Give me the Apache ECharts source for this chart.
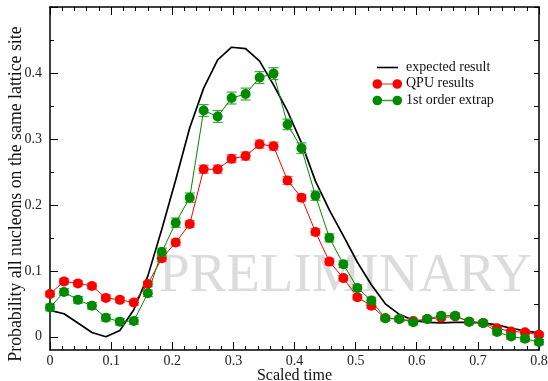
<!DOCTYPE html>
<html><head><meta charset="utf-8">
<script src="https://cdn.jsdelivr.net/npm/echarts@6/dist/echarts.min.js"></script>
<style>html,body{margin:0;padding:0;background:#fff}#c{width:548px;height:381px}</style>
</head><body><div id="c"></div>
<script>
// Scaled time grid
const times = [0, 0.0229, 0.0457, 0.0686, 0.0914, 0.1143, 0.1371, 0.16, 0.1829, 0.2057, 0.2286, 0.2514,
  0.2743, 0.2971, 0.32, 0.3429, 0.3657, 0.3886, 0.4114, 0.4343, 0.4571, 0.48, 0.5029, 0.5257,
  0.5486, 0.5714, 0.5943, 0.6171, 0.64, 0.6629, 0.6857, 0.7086, 0.7314, 0.7543, 0.7771, 0.8];
// expected result (black curve)
const expected = [0.040, 0.035, 0.021, 0.0066, 0.000, 0.0096, 0.041, 0.092, 0.163, 0.238, 0.317, 0.377,
  0.420, 0.439, 0.437, 0.418, 0.382, 0.342, 0.294, 0.236, 0.192, 0.153, 0.113, 0.079,
  0.050, 0.034, 0.025, 0.022, 0.021, 0.022, 0.022, 0.021, 0.018, 0.013, 0.009, 0.006];
// QPU results
const qpu = [0.065, 0.084, 0.081, 0.077, 0.059, 0.056, 0.052, 0.080, 0.119, 0.143, 0.171, 0.254,
  0.254, 0.270, 0.274, 0.292, 0.289, 0.237, 0.211, 0.159, 0.114, 0.089, 0.060, 0.047,
  0.028, 0.027, 0.024, 0.027, 0.029, 0.031, 0.023, 0.021, 0.013, 0.008, 0.007, 0.003];
const qpuErr = [0.004, 0.004, 0.004, 0.004, 0.004, 0.004, 0.004, 0.004, 0.005, 0.005, 0.005, 0.006,
  0.006, 0.006, 0.006, 0.006, 0.006, 0.006, 0.005, 0.005, 0.005, 0.004, 0.004, 0.004,
  0.003, 0.003, 0.003, 0.003, 0.003, 0.003, 0.003, 0.003, 0.003, 0.003, 0.003, 0.003];
// 1st order extrapolation
const extrap = [0.0445, 0.068, 0.056, 0.047, 0.029, 0.023, 0.024, 0.066, 0.1285, 0.173, 0.211, 0.343,
  0.334, 0.362, 0.368, 0.393, 0.399, 0.322, 0.286, 0.214, 0.150, 0.110, 0.074, 0.055,
  0.028, 0.027, 0.022, 0.027, 0.032, 0.032, 0.023, 0.021, 0.0072, 0.0005, -0.003, -0.008];
const extrapErr = [0.005, 0.005, 0.005, 0.005, 0.005, 0.005, 0.005, 0.005, 0.006, 0.007, 0.007, 0.009,
  0.009, 0.009, 0.009, 0.009, 0.009, 0.008, 0.008, 0.007, 0.006, 0.005, 0.005, 0.005,
  0.004, 0.004, 0.004, 0.004, 0.004, 0.004, 0.004, 0.004, 0.004, 0.004, 0.004, 0.004];
const xTickLabels = ['0', '0.1', '0.2', '0.3', '0.4', '0.5', '0.6', '0.7', '0.8'];
const yTickLabels = ['0', '0.1', '0.2', '0.3', '0.4', ''];
const legendNames = ['expected result', 'QPU results', '1st order extrap'];
const xName = 'Scaled time';
const yName = 'Probability all nucleons on the same lattice site';

const FONT = 'Liberation Serif';
const chart = echarts.init(document.getElementById('c'), null, {renderer: 'canvas'});

function errItem(color) {
  return function (params, api) {
    const x = api.value(0), y = api.value(1), e = api.value(2);
    const p = api.coord([x, y + e]);
    const q = api.coord([x, y - e]);
    const w = 5;
    const st = {stroke: color, lineWidth: 1.2};
    return {type: 'group', children: [
      {type: 'line', shape: {x1: p[0], y1: p[1], x2: q[0], y2: q[1]}, style: st},
      {type: 'line', shape: {x1: p[0] - w, y1: p[1], x2: p[0] + w, y2: p[1]}, style: st},
      {type: 'line', shape: {x1: q[0] - w, y1: q[1], x2: q[0] + w, y2: q[1]}, style: st}
    ]};
  };
}

const axisLineStyle = {color: '#000', width: 1.5};
const zeroY = 350 - 0.02 / 0.52 * 343;

const option = {
  animation: false,
  backgroundColor: '#fff',
  grid: [
    {left: 50, right: 9, top: 7, height: 343, containLabel: false, outerBoundsMode: 'none'},
    {left: 50, right: 9, top: 7, height: zeroY - 7, containLabel: false, outerBoundsMode: 'none'}
  ],
  xAxis: [
    {gridIndex: 0, type: 'value', position: 'bottom', min: 0, max: 0.8, interval: 0.1,
     axisLine: {show: true, onZero: false, lineStyle: axisLineStyle},
     axisTick: {show: true, inside: true, length: 8, lineStyle: {color: '#000', width: 1}},
     minorTick: {show: true, splitNumber: 5, length: 4, lineStyle: {color: '#000', width: 1}},
     splitLine: {show: false},
     axisLabel: {show: true, margin: 4, color: '#222', fontFamily: FONT, fontSize: 14,
       formatter: v => xTickLabels[Math.round(v / 0.1)]}},
    {gridIndex: 0, type: 'value', position: 'top', min: 0, max: 0.8, interval: 0.1,
     axisLine: {show: true, onZero: false, lineStyle: axisLineStyle},
     axisTick: {show: true, inside: true, length: 8, lineStyle: {color: '#000', width: 1}},
     minorTick: {show: true, splitNumber: 5, length: 4, lineStyle: {color: '#000', width: 1}},
     splitLine: {show: false}, axisLabel: {show: false}},
    {gridIndex: 1, type: 'value', min: 0, max: 0.8, show: false}
  ],
  yAxis: [
    {gridIndex: 0, type: 'value', position: 'left', min: -0.02, max: 0.5,
     axisLine: {show: true, onZero: false, lineStyle: axisLineStyle},
     axisTick: {show: false}, axisLabel: {show: false}, splitLine: {show: false}},
    {gridIndex: 0, type: 'value', position: 'right', min: -0.02, max: 0.5,
     axisLine: {show: true, onZero: false, lineStyle: axisLineStyle},
     axisTick: {show: false}, axisLabel: {show: false}, splitLine: {show: false}},
    {gridIndex: 1, type: 'value', position: 'left', min: 0, max: 0.5, interval: 0.1,
     axisLine: {show: false},
     axisTick: {show: true, inside: true, length: 8, lineStyle: {color: '#000', width: 1}},
     minorTick: {show: true, splitNumber: 2, length: 4, lineStyle: {color: '#000', width: 1}},
     splitLine: {show: false},
     axisLabel: {show: true, margin: 8, color: '#222', fontFamily: FONT, fontSize: 14,
       formatter: v => yTickLabels[Math.round(v / 0.1)]}},
    {gridIndex: 1, type: 'value', position: 'right', min: 0, max: 0.5, interval: 0.1,
     axisLine: {show: false},
     axisTick: {show: true, inside: true, length: 5, lineStyle: {color: '#000', width: 1}},
     minorTick: {show: true, splitNumber: 2, length: 5, lineStyle: {color: '#000', width: 1}},
     splitLine: {show: false}, axisLabel: {show: false}}
  ],
  graphic: [
    {type: 'text', z: 0, left: 159, top: 249, silent: true,
     style: {text: 'PRELIMINARY', font: '55px "' + FONT + '"', fill: '#dcdcdc'}},
    {type: 'text', x: 16, y: 194, rotation: Math.PI / 2,
     style: {text: yName, font: '17.8px "' + FONT + '"',
       fill: '#111', textAlign: 'center', textVerticalAlign: 'middle'}},
    {type: 'text', x: 294.5, y: 375.5,
     style: {text: xName, font: '16px "' + FONT + '"',
       fill: '#111', textAlign: 'center', textVerticalAlign: 'middle'}},
    // legend
    {type: 'line', shape: {x1: 377, y1: 67.5, x2: 398, y2: 67.5}, style: {stroke: '#000', lineWidth: 1.6}},
    {type: 'line', shape: {x1: 377, y1: 84, x2: 397, y2: 84}, style: {stroke: '#ff6666', lineWidth: 1.5}},
    {type: 'circle', shape: {cx: 377.3, cy: 84, r: 4.8}, style: {fill: '#ff0000'}},
    {type: 'circle', shape: {cx: 397.3, cy: 84, r: 4.8}, style: {fill: '#ff0000'}},
    {type: 'line', shape: {x1: 377, y1: 100.5, x2: 397, y2: 100.5}, style: {stroke: '#33a033', lineWidth: 1.5}},
    {type: 'circle', shape: {cx: 377.3, cy: 100.5, r: 4.8}, style: {fill: '#008a00'}},
    {type: 'circle', shape: {cx: 397.3, cy: 100.5, r: 4.8}, style: {fill: '#008a00'}},
    {type: 'text', x: 406, y: 67, style: {text: legendNames[0], font: '14px "' + FONT + '"', fill: '#111', textVerticalAlign: 'middle'}},
    {type: 'text', x: 406, y: 83.5, style: {text: legendNames[1], font: '14px "' + FONT + '"', fill: '#111', textVerticalAlign: 'middle'}},
    {type: 'text', x: 406, y: 100, style: {text: legendNames[2], font: '14px "' + FONT + '"', fill: '#111', textVerticalAlign: 'middle'}}
  ],
  series: [
    {name: legendNames[0], type: 'line', xAxisIndex: 0, yAxisIndex: 0, z: 2,
     data: times.map((t, i) => [t, expected[i]]), showSymbol: false, symbol: 'none',
     lineStyle: {color: '#000', width: 1.7}},
    {type: 'custom', xAxisIndex: 0, yAxisIndex: 0, z: 3,
     data: times.map((t, i) => [t, qpu[i], qpuErr[i]]), renderItem: errItem('#ff5a5a')},
    {name: legendNames[1], type: 'line', xAxisIndex: 0, yAxisIndex: 0, z: 3,
     data: times.map((t, i) => [t, qpu[i]]), symbol: 'circle', symbolSize: 10,
     itemStyle: {color: '#ff0000'}, lineStyle: {color: '#ff0000', width: 1}},
    {type: 'custom', xAxisIndex: 0, yAxisIndex: 0, z: 4,
     data: times.map((t, i) => [t, extrap[i], extrapErr[i]]), renderItem: errItem('#3aa83a')},
    {name: legendNames[2], type: 'line', xAxisIndex: 0, yAxisIndex: 0, z: 4,
     data: times.map((t, i) => [t, extrap[i]]), symbol: 'circle', symbolSize: 10,
     itemStyle: {color: '#008a00'}, lineStyle: {color: '#008a00', width: 1}}
  ]
};
chart.setOption(option);
</script>
</body></html>
